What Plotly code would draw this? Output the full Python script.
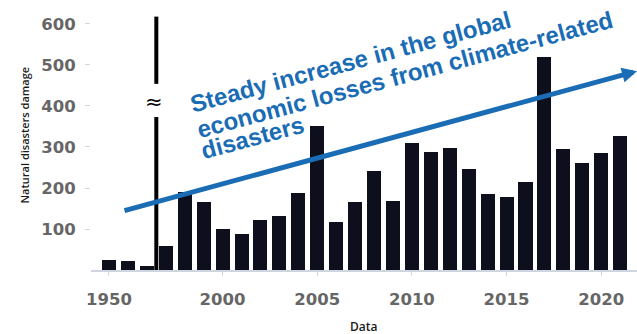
import plotly.graph_objects as go

# Periods on the horizontal axis: three early decades, then yearly from 1997
periods = ["1950", "1960", "1970"] + [str(y) for y in range(1997, 2022)]
damage = [24, 22, 10, 59, 191, 167, 100, 87, 122, 132, 187, 351, 116, 165,
          242, 168, 310, 289, 297, 246, 185, 177, 215, 519, 296, 260, 286, 327]
tick_labels = ["1950", "2000", "2005", "2010", "2015", "2020"]
y_ticks = [100, 200, 300, 400, 500, 600]

caption_lines = ["Steady increase in the global",
                 "economic losses from climate-related",
                 "disasters"]

BAR = "#0d0f1c"
BLUE = "#1a6cb5"
GREY = "#666666"

pos = list(range(len(periods)))

fig = go.Figure()
fig.add_trace(go.Bar(x=pos, y=damage, width=0.74, marker_color=BAR,
                     marker_line_width=0, hoverinfo="skip"))

# Axis break marker between the decades and the yearly series
brk = 2.5
fig.add_shape(type="line", x0=brk, x1=brk, y0=0, y1=373,
              line=dict(color="black", width=4))
fig.add_shape(type="line", x0=brk, x1=brk, y0=454, y1=618,
              line=dict(color="black", width=4))
fig.add_annotation(x=2.38, y=409, text="≈", showarrow=False,
                   font=dict(family="DejaVu Sans", size=21, color="black"))

# Trend arrow
fig.add_annotation(x=27.89, y=485, ax=0.74, ay=144, axref="x", ayref="y",
                   xref="x", yref="y", text="", showarrow=True,
                   arrowhead=2, arrowsize=0.6, arrowwidth=5,
                   arrowcolor=BLUE, standoff=0)

# Rotated caption, one annotation per line
centers = [(12.78, 509), (15.62, 478), (7.56, 322)]
for line, (cx, cy) in zip(caption_lines, centers):
    fig.add_annotation(x=cx, y=cy, text=line, showarrow=False, textangle=-15,
                       xanchor="center", yanchor="middle",
                       font=dict(family="Liberation Sans", size=24,
                                 color=BLUE, weight="bold"))

# Axis titles
fig.add_annotation(xref="paper", yref="paper", x=0, y=0.5, xshift=-77,
                   text="Natural disasters damage", textangle=-90,
                   showarrow=False,
                   font=dict(family="Open Sans", size=11, color="#1a1a1a",
                             weight=600))
fig.add_annotation(xref="paper", yref="paper", x=0.5, y=0, yshift=-56,
                   text="Data", showarrow=False, yanchor="middle",
                   font=dict(family="Open Sans", size=12, color="#1a1a1a",
                             weight=600))

tick_font = dict(family="DejaVu Sans", size=16.5, color=GREY, weight="bold")

fig.update_layout(
    width=637, height=334,
    margin=dict(l=91, r=0, t=0, b=64),
    paper_bgcolor="white", plot_bgcolor="white",
    showlegend=False, bargap=0,
    xaxis=dict(range=[-0.95, 27.89],
               tickvals=[periods.index(t) for t in tick_labels],
               ticktext=tick_labels, tickfont=tick_font,
               showgrid=False, zeroline=False,
               showline=True, linecolor="#cdd6e0", linewidth=1.5,
               ticks="outside", ticklen=4, tickcolor="#d5d5d5",
               ticklabelstandoff=9),
    yaxis=dict(range=[0, 658.5], tickvals=y_ticks, tickfont=tick_font,
               showgrid=False, zeroline=False, showline=False,
               ticks="outside", ticklen=5, tickcolor="#d5d5d5",
               ticklabelstandoff=6),
)

fig.write_html("out.html")
